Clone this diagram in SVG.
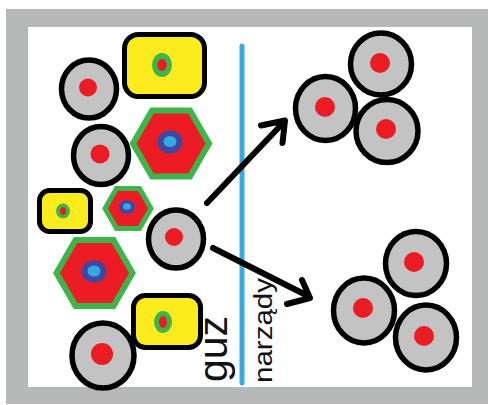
<svg xmlns="http://www.w3.org/2000/svg" width="488" height="405" viewBox="0 0 488 405">
  <style>
    .cell { fill: #c3c3c3; stroke: #000; stroke-width: 5.5; }
    .nuc { fill: #ec1c24; }
    .box { fill: #fcec1e; stroke: #000; stroke-width: 5; }
    .ring { fill: #3db54a; }
    .hex { fill: #ec1c24; stroke: #3db54a; stroke-width: 6; stroke-linejoin: miter; }
    .hnuc { fill: #3f48a0; }
    .hcore { fill: #35a8e0; }
    .arrow { fill: none; stroke: #000; stroke-width: 6; stroke-linecap: round; stroke-linejoin: round; }
    .lbl { font-family: "Liberation Sans", Arial, sans-serif; fill: #111; }
  </style>
  <defs>
    <polygon id="hexBig" points="-38,0 -19,-33 19,-33 38,0 19,33 -19,33"/>
    <polygon id="hexSmall" points="-23,0 -11.5,-20 11.5,-20 23,0 11.5,20 -11.5,20"/>
  </defs>

  <!-- frame -->
  <rect x="6" y="9" width="482" height="395" fill="#b6b9b7"/>
  <rect x="28" y="27" width="444" height="360" fill="#ffffff"/>

  <!-- divider -->
  <line x1="242" y1="46" x2="242" y2="383" stroke="#39a9e1" stroke-width="5" stroke-linecap="round"/>

  <!-- tumour side -->
  <g id="cell-1">
    <ellipse class="cell" cx="89" cy="89" rx="27.5" ry="29"/>
    <circle class="nuc" cx="88" cy="87.5" r="9"/>
  </g>
  <g id="box-1">
    <rect class="box" x="124.5" y="34.5" width="80" height="62" rx="14"/>
    <ellipse class="ring" cx="162" cy="65" rx="10" ry="12"/>
    <ellipse class="nuc" cx="162" cy="65" rx="4.7" ry="6"/>
  </g>
  <g id="cell-2">
    <ellipse class="cell" cx="101" cy="155.5" rx="27.5" ry="29"/>
    <circle class="nuc" cx="100" cy="154" r="9.5"/>
  </g>
  <g id="hex-1">
    <use href="#hexBig" class="hex" x="171" y="143.5"/>
    <ellipse class="hnuc" cx="170" cy="142" rx="12.5" ry="11.5"/>
    <ellipse class="hcore" cx="170" cy="141.5" rx="6.5" ry="5.5"/>
  </g>
  <g id="box-2">
    <rect class="box" x="39.5" y="190.5" width="51" height="41" rx="10"/>
    <ellipse class="ring" cx="63" cy="211" rx="7" ry="7.5"/>
    <ellipse class="nuc" cx="63" cy="211" rx="3" ry="4"/>
  </g>
  <g id="hex-2">
    <use href="#hexSmall" class="hex" x="128" y="208.5" style="stroke-width:5"/>
    <ellipse class="hnuc" cx="127" cy="207" rx="8" ry="7"/>
    <ellipse class="hcore" cx="127" cy="206.5" rx="4" ry="3.3"/>
  </g>
  <g id="cell-3">
    <ellipse class="cell" cx="176" cy="239" rx="27.5" ry="29"/>
    <circle class="nuc" cx="174" cy="237" r="9"/>
  </g>
  <g id="hex-3">
    <use href="#hexBig" class="hex" x="94.5" y="273"/>
    <ellipse class="hnuc" cx="94" cy="271.5" rx="12.5" ry="11"/>
    <ellipse class="hcore" cx="94" cy="271" rx="6.5" ry="5.5"/>
  </g>
  <g id="box-3">
    <rect class="box" x="133.5" y="295.5" width="67" height="52" rx="12"/>
    <ellipse class="ring" cx="163" cy="322" rx="9" ry="11"/>
    <ellipse class="nuc" cx="163" cy="322" rx="4" ry="6"/>
  </g>
  <g id="cell-4">
    <ellipse class="cell" cx="103" cy="355.5" rx="31" ry="32.5"/>
    <circle class="nuc" cx="102" cy="354" r="11"/>
  </g>

  <!-- organ side, upper group -->
  <g id="cell-5">
    <ellipse class="cell" cx="381" cy="64" rx="30.5" ry="31"/>
    <circle class="nuc" cx="380" cy="63" r="10"/>
  </g>
  <g id="cell-6">
    <ellipse class="cell" cx="325.5" cy="108.5" rx="30" ry="32"/>
    <circle class="nuc" cx="325" cy="107" r="10"/>
  </g>
  <g id="cell-7">
    <ellipse class="cell" cx="387" cy="131" rx="31" ry="31.5"/>
    <circle class="nuc" cx="386" cy="129" r="10"/>
  </g>

  <!-- organ side, lower group -->
  <g id="cell-8">
    <ellipse class="cell" cx="416" cy="263.5" rx="30.5" ry="32"/>
    <circle class="nuc" cx="414" cy="262" r="10"/>
  </g>
  <g id="cell-9">
    <ellipse class="cell" cx="364" cy="310.5" rx="30.5" ry="32.5"/>
    <circle class="nuc" cx="363" cy="308" r="10"/>
  </g>
  <g id="cell-10">
    <ellipse class="cell" cx="426" cy="337.5" rx="30.5" ry="32.5"/>
    <circle class="nuc" cx="424" cy="336" r="10"/>
  </g>

  <!-- connectors -->
  <g id="connectors">
    <path class="arrow" d="M207,203 L283,123 M261,125.5 L285,120.5 L282.5,143"/>
    <path class="arrow" d="M213,248 L308,296 M302,280 L310,298 L287,304"/>
  </g>

  <!-- labels -->
  <text class="lbl" x="0" y="0" font-size="41" transform="translate(227,382) rotate(-90)">guz</text>
  <text class="lbl" x="0" y="0" font-size="26" textLength="105" lengthAdjust="spacingAndGlyphs" transform="translate(272,383) rotate(-90)">narządy</text>
</svg>
